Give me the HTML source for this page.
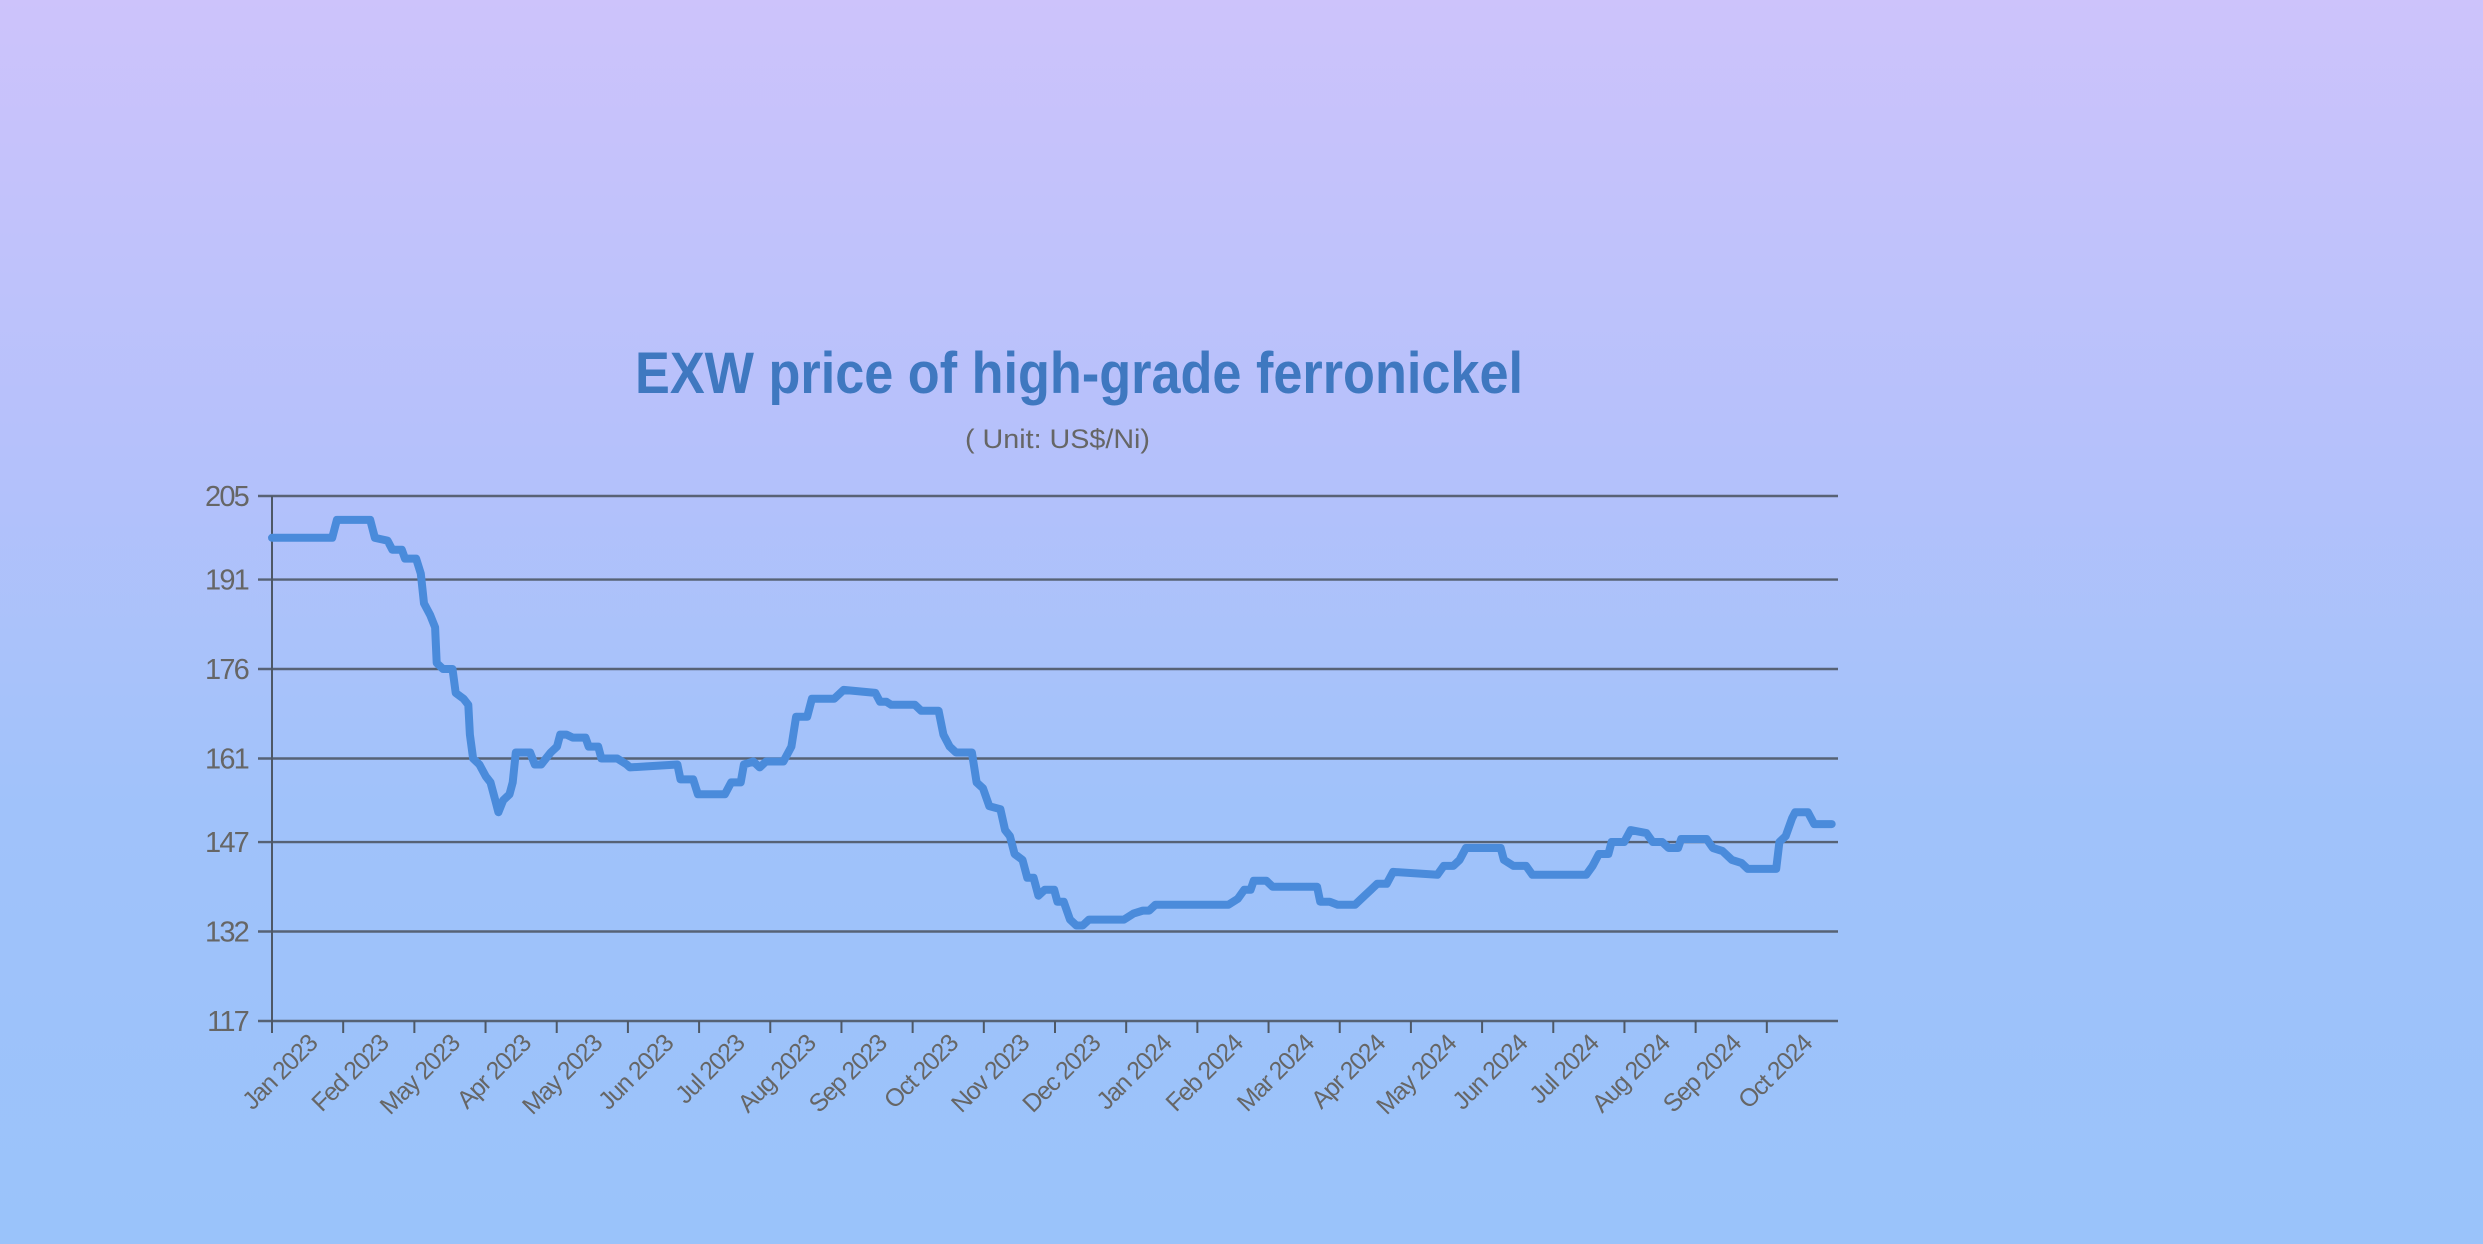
<!DOCTYPE html>
<html><head><meta charset="utf-8"><style>
html,body{margin:0;padding:0;width:2483px;height:1244px;overflow:hidden}
body{background:linear-gradient(180deg,#cdc3fb 0%,#b6c1fb 35%,#a0c2fa 65%,#9ac3fa 100%);font-family:"Liberation Sans",sans-serif}
svg{position:absolute;left:0;top:0}
</style></head><body>
<svg id="chart" width="2483" height="1244" viewBox="0 0 2483 1244">
<text x="635" y="393" textLength="888" lengthAdjust="spacingAndGlyphs" font-size="58" font-weight="bold" fill="#3f78c0">EXW price of high-grade ferronickel</text>
<text x="965" y="448" textLength="185" lengthAdjust="spacingAndGlyphs" font-size="27" fill="#666">( Unit: US$/Ni)</text>
<g id="grid"></g><g id="xaxis"></g><g id="series"></g>
</svg>
<script>
const yTicks=[117,132,147,161,176,191,205];
const categories=["Jan 2023","Fed 2023","May 2023","Apr 2023","May 2023","Jun 2023","Jul 2023","Aug 2023","Sep 2023","Oct 2023","Nov 2023","Dec 2023","Jan 2024","Feb 2024","Mar 2024","Apr 2024","May 2024","Jun 2024","Jul 2024","Aug 2024","Sep 2024","Oct 2024"];
const dayIndex=[0,38,41,62,65,73,76,82,84,91,94,96,100,103,104,108,114,116,121,124,125,127,131,135,138,141,143,146,150,152,154,163,166,170,176,180,182,186,190,198,200,206,208,218,224,226,256,258,266,269,286,290,296,298,304,308,312,323,328,331,338,341,355,361,381,384,388,391,406,410,421,424,428,432,442,445,449,453,460,463,466,469,474,477,481,484,488,494,496,500,504,508,512,516,538,544,550,554,558,604,610,614,618,620,628,632,660,662,668,673,684,690,694,698,704,708,736,740,746,750,754,776,778,784,792,796,830,834,838,844,846,854,858,868,872,878,882,888,890,906,910,916,922,928,932,936,950,952,956,960,962,970,974,985];
const prices=[198,198,201,201,198,197.5,196,196,194.5,194.5,192,187,185,183,177,176,176,172,171,170,165,161,160,158,157,154,152,154,155,157,162,162,160,160,162,163,165,165,164.5,164.5,163,163,161,161,160,159.5,160,157.5,157.5,155,155,157,157,160,160.5,159.5,160.5,160.5,163,168,168,171,171,172.5,172,170.5,170.5,170,170,169,169,165,163,162,162,157,156,153,152.5,149,148,145,144,141,141,138,139,139,137,137,134,133,133,134,134,135,135.5,135.5,136.5,136.5,137.5,139,139,140.5,140.5,139.5,139.5,137,137,136.5,136.5,138,139,140,140,142,141.5,143,143,144,146,146,144,143,143,141.5,141.5,143,145,145,147,147,149,148.5,147,147,146,146,147.5,147.5,146,145.5,144,143.5,142.5,142.5,142.5,147,148,151,152,152,150,150];
const L=272,R=1838,T=496,B=1021,NS="http://www.w3.org/2000/svg";
const yS=v=>B-(v-117)/(205-117)*(B-T);
const xS=d=>L+d/989*(R-L);
const bw=(R-L)/categories.length;
const grid=document.getElementById('grid'),xa=document.getElementById('xaxis'),se=document.getElementById('series');
function mk(tag,attrs,parent){const e=document.createElementNS(NS,tag);for(const k in attrs)e.setAttribute(k,attrs[k]);parent.appendChild(e);return e;}
yTicks.forEach(v=>{
  const l=mk('line',{x1:L-14,x2:R,y1:yS(v),y2:yS(v),stroke:'#4e5866','stroke-width':2.4,'stroke-opacity':0.9},grid);
  
  
  const t=mk('text',{x:L-24,y:yS(v)+10,'text-anchor':'end','font-size':29,fill:'#666','letter-spacing':-1.8},grid);
  t.textContent=v;
  
  
});
const ax=mk('line',{x1:L,x2:L,y1:T,y2:B+12,stroke:'#4e5866','stroke-width':2},grid);


categories.forEach((c,i)=>{
  const tk=mk('line',{x1:L+i*bw,x2:L+i*bw,y1:B,y2:B+12,stroke:'#4e5866','stroke-width':2},xa);
  
  
  const cx=L+(i+0.5)*bw+11,cy=1045;
  const t=mk('text',{x:cx,y:cy,'text-anchor':'end','font-size':25,fill:'#666','letter-spacing':-1.2,transform:'rotate(-45 '+cx+' '+cy+')'},xa);
  t.textContent=c;
  
  
});
const d=dayIndex.map((x,i)=>(i?'L':'M')+xS(x).toFixed(1)+' '+yS(prices[i]).toFixed(1)).join(' ');
const p=mk('path',{d:d,fill:'none',stroke:'#4a8bdb','stroke-width':8,'stroke-linejoin':'round','stroke-linecap':'round'},se);


</script>
</body></html>
